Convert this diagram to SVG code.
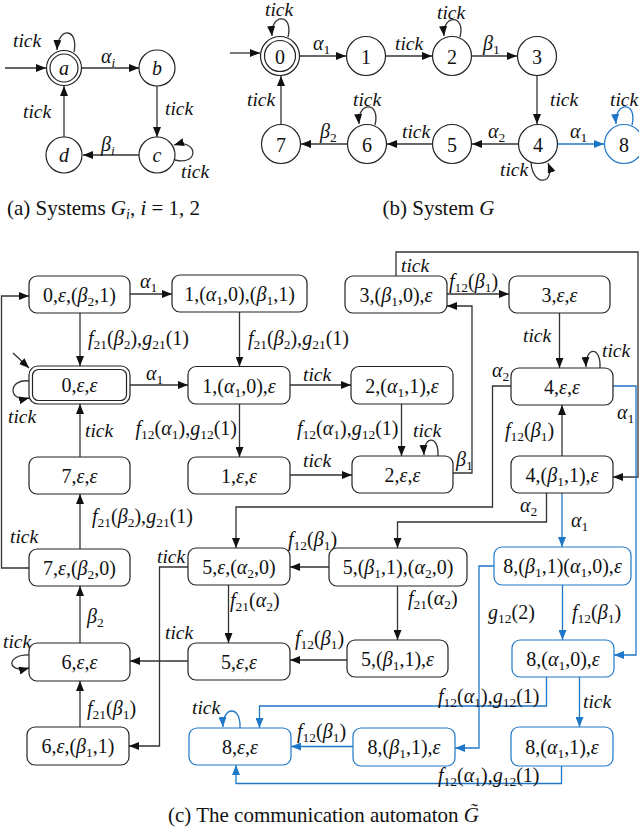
<svg xmlns="http://www.w3.org/2000/svg" width="639" height="834" viewBox="0 0 639 834">
<defs>
<style>
text{font-family:"Liberation Serif","Times New Roman",serif;fill:#111}
.n{font-size:20px;text-anchor:middle}
.l{font-size:20px}
.tk{font-size:19.5px;font-style:italic}
.it{font-style:italic}
.sb{font-size:13.5px}
.cap{font-size:21px}
.nd{fill:#fff;stroke:#222;stroke-width:1.2}
.bn{fill:#fff;stroke:#1f77c7;stroke-width:1.2}
.e{fill:none;stroke:#333;stroke-width:1.3;marker-end:url(#ah)}
.eb{fill:none;stroke:#1f77c7;stroke-width:1.3;marker-end:url(#ahb)}
</style>
<marker id="ah" viewBox="0 0 10 8" refX="10" refY="4" markerWidth="10" markerHeight="8" markerUnits="userSpaceOnUse" orient="auto"><path d="M0,0 L10,4 L0,8 z" fill="#111"/></marker>
<marker id="ahb" viewBox="0 0 10 8" refX="10" refY="4" markerWidth="10" markerHeight="8" markerUnits="userSpaceOnUse" orient="auto"><path d="M0,0 L10,4 L0,8 z" fill="#1f77c7"/></marker>
</defs>
<rect width="639" height="834" fill="#fff"/>

<!-- (a) -->
<g id="a-nodes">
<g id="a_a"><circle cx="64" cy="68" r="17.5" class="nd"/><circle cx="64" cy="68" r="14" fill="none" stroke="#222" stroke-width="1.2"/><text x="64" y="75" class="n it" font-size="23">a</text></g>
<g id="a_b"><circle cx="157" cy="68" r="18" class="nd"/><text x="157" y="75" class="n it" font-size="23">b</text></g>
<g id="a_c"><circle cx="157" cy="155" r="18" class="nd"/><text x="157" y="162" class="n it" font-size="23">c</text></g>
<g id="a_d"><circle cx="64" cy="155" r="18" class="nd"/><text x="64" y="162" class="n it" font-size="23">d</text></g>
</g>
<g id="a-connectors">
<path class="e" d="M5,68 H46"/>
<path class="e" d="M82,68 H139"/>
<path class="e" d="M157,86 V137"/>
<path class="e" d="M139,155 H83"/>
<path class="e" d="M64,137 V86"/>
<path class="e" d="M74,52 C79,28 58,26 57,50"/>
<path class="e" d="M175,160 C200,166 198,138 174,145"/>
<text x="101" y="63" class="l"><tspan class="it">α</tspan><tspan class="sb it" dy="4">i</tspan></text>
<text x="165" y="115" class="tk" font-size="21">tick</text>
<text x="101" y="151" class="l"><tspan class="it">β</tspan><tspan class="sb it" dy="4">i</tspan></text>
<text x="23" y="118" class="tk" font-size="21">tick</text>
<text x="13" y="47" class="tk" font-size="21">tick</text>
<text x="181" y="178" class="tk" font-size="21">tick</text>
</g>
<text x="7" y="215" class="cap">(a)  Systems <tspan class="it">G</tspan><tspan class="it" font-size="14" dy="4">i</tspan><tspan dy="-4">, </tspan><tspan class="it">i</tspan> = 1, 2</text>

<!-- (b) -->
<g id="b-nodes">
<g id="b0"><circle cx="280" cy="56" r="19.5" class="nd"/><circle cx="280" cy="56" r="15.5" fill="none" stroke="#222" stroke-width="1.2"/><text x="280" y="64" class="n" font-size="23">0</text></g>
<g id="b1"><circle cx="366" cy="56" r="19.5" class="nd"/><text x="366" y="64" class="n" font-size="23">1</text></g>
<g id="b2"><circle cx="452" cy="56" r="19.5" class="nd"/><text x="452" y="64" class="n" font-size="23">2</text></g>
<g id="b3"><circle cx="537" cy="56" r="19.5" class="nd"/><text x="537" y="64" class="n" font-size="23">3</text></g>
<g id="b4"><circle cx="538" cy="144" r="19.5" class="nd"/><text x="538" y="152" class="n" font-size="23">4</text></g>
<g id="b5"><circle cx="452" cy="144" r="19.5" class="nd"/><text x="452" y="152" class="n" font-size="23">5</text></g>
<g id="b6"><circle cx="367" cy="144" r="19.5" class="nd"/><text x="367" y="152" class="n" font-size="23">6</text></g>
<g id="b7"><circle cx="281" cy="144" r="19.5" class="nd"/><text x="281" y="152" class="n" font-size="23">7</text></g>
<g id="b8"><circle cx="624" cy="144" r="19.5" class="bn"/><text x="624" y="152" class="n" font-size="23">8</text></g>
</g>
<g id="b-connectors">
<path class="e" d="M230,53 H260"/>
<path class="e" d="M300,56 H346"/>
<path class="e" d="M386,56 H432"/>
<path class="e" d="M471,56 H517"/>
<path class="e" d="M537,76 V124"/>
<path class="e" d="M518.5,144 H472"/>
<path class="e" d="M432.5,144 H387"/>
<path class="e" d="M347.5,144 H301"/>
<path class="e" d="M281,124 V76"/>
<path class="eb" d="M558,144 H604"/>
<path class="e" d="M288,37 C294,13 270,13 272,36"/>
<path class="e" d="M460,37 C466,14 442,14 444,36"/>
<path class="e" d="M375,125 C381,101 357,101 359,124"/>
<path class="eb" d="M632,125 C638,101 614,101 616,124"/>
<path class="e" d="M531,162.5 C533,188 556,184 548,163"/>
<text x="265" y="16" class="tk" font-size="18.5">tick</text>
<text x="313" y="50" class="l"><tspan class="it">α</tspan><tspan class="sb" dy="4">1</tspan></text>
<text x="395" y="50" class="tk" font-size="18.5">tick</text>
<text x="437" y="19" class="tk" font-size="18.5">tick</text>
<text x="483" y="50" class="l"><tspan class="it">β</tspan><tspan class="sb" dy="4">1</tspan></text>
<text x="550" y="106" class="tk" font-size="18.5">tick</text>
<text x="488" y="138" class="l"><tspan class="it">α</tspan><tspan class="sb" dy="4">2</tspan></text>
<text x="402" y="138" class="tk" font-size="18.5">tick</text>
<text x="353" y="106" class="tk" font-size="18.5">tick</text>
<text x="320" y="138" class="l"><tspan class="it">β</tspan><tspan class="sb" dy="4">2</tspan></text>
<text x="247" y="106" class="tk" font-size="18.5">tick</text>
<text x="570" y="138" class="l"><tspan class="it">α</tspan><tspan class="sb" dy="4">1</tspan></text>
<text x="610" y="106" class="tk" font-size="18.5">tick</text>
<text x="500" y="176" class="tk" font-size="18.5">tick</text>
</g>
<text x="438.5" y="215" class="cap" text-anchor="middle">(b)  System <tspan class="it">G</tspan></text>

<!-- (c) -->
<g id="c-connectors">
<path class="e" d="M130,294 H172"/>
<path class="e" d="M80,313 V366"/>
<path class="e" d="M239.5,312 V366.5"/>
<path class="e" d="M13,353 L29,368"/>
<path class="e" d="M30,381 C7,378 8,403 29,398"/>
<path class="e" d="M130,385 H188"/>
<path class="e" d="M80,457 V404"/>
<path class="e" d="M239.5,404 V457"/>
<path class="e" d="M290,385 H351"/>
<path class="e" d="M401.5,404 V456"/>
<path class="e" d="M290,475 H352"/>
<path class="e" d="M438,456 C439,434 423,436 424,455"/>
<path class="e" d="M453,473 H472 V306 H447"/>
<path class="e" d="M396,276 V252 H638 V477 H613"/>
<path class="e" d="M447,294 H509"/>
<path class="e" d="M559.5,313 V368"/>
<path class="e" d="M600,368 C601,345 585,347 586,367"/>
<path class="e" d="M511,386 H492.5 V507 H236 V548"/>
<path class="eb" d="M613,386 H636 V655 H614"/>
<path class="e" d="M562,456 V405"/>
<path class="e" d="M546.5,493 V522 H397.5 V548"/>
<path class="eb" d="M562,493 V547"/>
<path class="e" d="M80,549 V494"/>
<path class="e" d="M29,568 H1.5 V296 H29"/>
<path class="e" d="M188,567 H159.5 V746 H129"/>
<path class="e" d="M329,567 H290"/>
<path class="e" d="M228.5,585 V643"/>
<path class="e" d="M397.5,586 V640"/>
<path class="eb" d="M562.5,585 V640"/>
<path class="eb" d="M494,566 H479 V748 H455"/>
<path class="e" d="M347,660 H290"/>
<path class="e" d="M188,661 H130"/>
<path class="e" d="M30,655 C5,654 7,674 29,668"/>
<path class="e" d="M80,643 V586"/>
<path class="e" d="M80,727 V681"/>
<path class="eb" d="M579.5,677 V727"/>
<path class="eb" d="M546.5,677 V706 H259.5 V728"/>
<path class="eb" d="M561.5,766 V783.5 H236 V765"/>
<path class="eb" d="M353,746.5 H291"/>
<path class="eb" d="M240,728 C241,704 222,707 223,727"/>
</g>
<g id="c-labels">
<text x="140" y="288" class="l"><tspan class="it">α</tspan><tspan class="sb" dy="4">1</tspan></text>
<text x="88" y="345" class="l"><tspan class="it">f</tspan><tspan class="sb" dy="4">21</tspan><tspan dy="-4">(</tspan><tspan class="it">β</tspan><tspan class="sb" dy="4">2</tspan><tspan dy="-4">),</tspan><tspan class="it">g</tspan><tspan class="sb" dy="4">21</tspan><tspan dy="-4">(1)</tspan></text>
<text x="248" y="345" class="l"><tspan class="it">f</tspan><tspan class="sb" dy="4">21</tspan><tspan dy="-4">(</tspan><tspan class="it">β</tspan><tspan class="sb" dy="4">2</tspan><tspan dy="-4">),</tspan><tspan class="it">g</tspan><tspan class="sb" dy="4">21</tspan><tspan dy="-4">(1)</tspan></text>
<text x="8" y="423" class="tk">tick</text>
<text x="146" y="380" class="l"><tspan class="it">α</tspan><tspan class="sb" dy="4">1</tspan></text>
<text x="85" y="437" class="tk">tick</text>
<text x="237" y="435" class="l" text-anchor="end"><tspan class="it">f</tspan><tspan class="sb" dy="4">12</tspan><tspan dy="-4">(</tspan><tspan class="it">α</tspan><tspan class="sb" dy="4">1</tspan><tspan dy="-4">),</tspan><tspan class="it">g</tspan><tspan class="sb" dy="4">12</tspan><tspan dy="-4">(1)</tspan></text>
<text x="303" y="381" class="tk">tick</text>
<text x="297" y="435" class="l"><tspan class="it">f</tspan><tspan class="sb" dy="4">12</tspan><tspan dy="-4">(</tspan><tspan class="it">α</tspan><tspan class="sb" dy="4">1</tspan><tspan dy="-4">),</tspan><tspan class="it">g</tspan><tspan class="sb" dy="4">12</tspan><tspan dy="-4">(1)</tspan></text>
<text x="303" y="467" class="tk">tick</text>
<text x="413" y="437" class="tk">tick</text>
<text x="456" y="466" class="l"><tspan class="it">β</tspan><tspan class="sb" dy="4">1</tspan></text>
<text x="401" y="272" class="tk">tick</text>
<text x="449" y="288" class="l"><tspan class="it">f</tspan><tspan class="sb" dy="4">12</tspan><tspan dy="-4">(</tspan><tspan class="it">β</tspan><tspan class="sb" dy="4">1</tspan><tspan dy="-4">)</tspan></text>
<text x="523" y="342" class="tk">tick</text>
<text x="602" y="357" class="tk">tick</text>
<text x="492" y="377" class="l"><tspan class="it">α</tspan><tspan class="sb" dy="4">2</tspan></text>
<text x="617" y="419" class="l"><tspan class="it">α</tspan><tspan class="sb" dy="4">1</tspan></text>
<text x="505" y="437" class="l"><tspan class="it">f</tspan><tspan class="sb" dy="4">12</tspan><tspan dy="-4">(</tspan><tspan class="it">β</tspan><tspan class="sb" dy="4">1</tspan><tspan dy="-4">)</tspan></text>
<text x="520" y="512" class="l"><tspan class="it">α</tspan><tspan class="sb" dy="4">2</tspan></text>
<text x="571" y="527" class="l"><tspan class="it">α</tspan><tspan class="sb" dy="4">1</tspan></text>
<text x="92" y="523" class="l"><tspan class="it">f</tspan><tspan class="sb" dy="4">21</tspan><tspan dy="-4">(</tspan><tspan class="it">β</tspan><tspan class="sb" dy="4">2</tspan><tspan dy="-4">),</tspan><tspan class="it">g</tspan><tspan class="sb" dy="4">21</tspan><tspan dy="-4">(1)</tspan></text>
<text x="10" y="543" class="tk">tick</text>
<text x="157" y="563" class="tk">tick</text>
<text x="288" y="546" class="l"><tspan class="it">f</tspan><tspan class="sb" dy="4">12</tspan><tspan dy="-4">(</tspan><tspan class="it">β</tspan><tspan class="sb" dy="4">1</tspan><tspan dy="-4">)</tspan></text>
<text x="230" y="607" class="l"><tspan class="it">f</tspan><tspan class="sb" dy="4">21</tspan><tspan dy="-4">(</tspan><tspan class="it">α</tspan><tspan class="sb" dy="4">2</tspan><tspan dy="-4">)</tspan></text>
<text x="408" y="605" class="l"><tspan class="it">f</tspan><tspan class="sb" dy="4">21</tspan><tspan dy="-4">(</tspan><tspan class="it">α</tspan><tspan class="sb" dy="4">2</tspan><tspan dy="-4">)</tspan></text>
<text x="572" y="619" class="l"><tspan class="it">f</tspan><tspan class="sb" dy="4">12</tspan><tspan dy="-4">(</tspan><tspan class="it">β</tspan><tspan class="sb" dy="4">1</tspan><tspan dy="-4">)</tspan></text>
<text x="488" y="619" class="l"><tspan class="it">g</tspan><tspan class="sb" dy="4">12</tspan><tspan dy="-4">(2)</tspan></text>
<text x="295" y="645" class="l"><tspan class="it">f</tspan><tspan class="sb" dy="4">12</tspan><tspan dy="-4">(</tspan><tspan class="it">β</tspan><tspan class="sb" dy="4">1</tspan><tspan dy="-4">)</tspan></text>
<text x="165" y="639" class="tk">tick</text>
<text x="3" y="648" class="tk">tick</text>
<text x="87" y="623" class="l"><tspan class="it">β</tspan><tspan class="sb" dy="4">2</tspan></text>
<text x="87" y="715" class="l"><tspan class="it">f</tspan><tspan class="sb" dy="4">21</tspan><tspan dy="-4">(</tspan><tspan class="it">β</tspan><tspan class="sb" dy="4">1</tspan><tspan dy="-4">)</tspan></text>
<text x="583" y="708" class="tk">tick</text>
<text x="438" y="703" class="l"><tspan class="it">f</tspan><tspan class="sb" dy="4">12</tspan><tspan dy="-4">(</tspan><tspan class="it">α</tspan><tspan class="sb" dy="4">1</tspan><tspan dy="-4">),</tspan><tspan class="it">g</tspan><tspan class="sb" dy="4">12</tspan><tspan dy="-4">(1)</tspan></text>
<text x="438" y="782" class="l"><tspan class="it">f</tspan><tspan class="sb" dy="4">12</tspan><tspan dy="-4">(</tspan><tspan class="it">α</tspan><tspan class="sb" dy="4">1</tspan><tspan dy="-4">),</tspan><tspan class="it">g</tspan><tspan class="sb" dy="4">12</tspan><tspan dy="-4">(1)</tspan></text>
<text x="297" y="738" class="l"><tspan class="it">f</tspan><tspan class="sb" dy="4">12</tspan><tspan dy="-4">(</tspan><tspan class="it">β</tspan><tspan class="sb" dy="4">1</tspan><tspan dy="-4">)</tspan></text>
<text x="192" y="714" class="tk">tick</text>
</g>

<g id="c-nodes">
<g id="n_0_e_b21"><rect x="29" y="276" width="101" height="37" rx="8" class="nd"/><text x="79.5" y="301.5" class="n">0,<tspan class="it">ε</tspan>,(<tspan class="it">β</tspan><tspan class="sb" dy="4">2</tspan><tspan dy="-4">,1)</tspan></text></g>
<g id="n_1_a10_b11"><rect x="172" y="275" width="135" height="37" rx="8" class="nd"/><text x="239.5" y="300.5" class="n">1,(<tspan class="it">α</tspan><tspan class="sb" dy="4">1</tspan><tspan dy="-4">,0),(</tspan><tspan class="it">β</tspan><tspan class="sb" dy="4">1</tspan><tspan dy="-4">,1)</tspan></text></g>
<g id="n_3_b10_e"><rect x="345" y="276" width="102" height="37" rx="8" class="nd"/><text x="396" y="301.5" class="n">3,(<tspan class="it">β</tspan><tspan class="sb" dy="4">1</tspan><tspan dy="-4">,0),</tspan><tspan class="it">ε</tspan></text></g>
<g id="n_3_e_e"><rect x="509" y="276" width="101" height="37" rx="8" class="nd"/><text x="559.5" y="301.5" class="n">3,<tspan class="it">ε</tspan>,<tspan class="it">ε</tspan></text></g>
<g id="n_0_e_e"><rect x="29" y="366" width="101" height="38" rx="9" class="nd"/><rect x="32.5" y="369.5" width="94" height="31" rx="6" fill="none" stroke="#222" stroke-width="1.2"/><text x="79.5" y="392" class="n">0,<tspan class="it">ε</tspan>,<tspan class="it">ε</tspan></text></g>
<g id="n_1_a10_e"><rect x="188" y="366.5" width="102" height="37.5" rx="8" class="nd"/><text x="239" y="392.5" class="n">1,(<tspan class="it">α</tspan><tspan class="sb" dy="4">1</tspan><tspan dy="-4">,0),</tspan><tspan class="it">ε</tspan></text></g>
<g id="n_2_a11_e"><rect x="351" y="366.5" width="102" height="37.5" rx="8" class="nd"/><text x="402" y="392.5" class="n">2,(<tspan class="it">α</tspan><tspan class="sb" dy="4">1</tspan><tspan dy="-4">,1),</tspan><tspan class="it">ε</tspan></text></g>
<g id="n_4_e_e"><rect x="511" y="368" width="102" height="37" rx="8" class="nd"/><text x="562" y="393.5" class="n">4,<tspan class="it">ε</tspan>,<tspan class="it">ε</tspan></text></g>
<g id="n_7_e_e"><rect x="29" y="457" width="101" height="37" rx="8" class="nd"/><text x="79.5" y="482.5" class="n">7,<tspan class="it">ε</tspan>,<tspan class="it">ε</tspan></text></g>
<g id="n_1_e_e"><rect x="188" y="457" width="102" height="37" rx="8" class="nd"/><text x="239" y="482.5" class="n">1,<tspan class="it">ε</tspan>,<tspan class="it">ε</tspan></text></g>
<g id="n_2_e_e"><rect x="352" y="456" width="101" height="37" rx="8" class="nd"/><text x="402.5" y="481.5" class="n">2,<tspan class="it">ε</tspan>,<tspan class="it">ε</tspan></text></g>
<g id="n_4_b11_e"><rect x="511" y="456" width="102" height="37" rx="8" class="nd"/><text x="562" y="481.5" class="n">4,(<tspan class="it">β</tspan><tspan class="sb" dy="4">1</tspan><tspan dy="-4">,1),</tspan><tspan class="it">ε</tspan></text></g>
<g id="n_7_e_b20"><rect x="29" y="549" width="101" height="37" rx="8" class="nd"/><text x="79.5" y="574.5" class="n">7,<tspan class="it">ε</tspan>,(<tspan class="it">β</tspan><tspan class="sb" dy="4">2</tspan><tspan dy="-4">,0)</tspan></text></g>
<g id="n_5_e_a20"><rect x="188" y="548" width="102" height="37" rx="8" class="nd"/><text x="239" y="573.5" class="n">5,<tspan class="it">ε</tspan>,(<tspan class="it">α</tspan><tspan class="sb" dy="4">2</tspan><tspan dy="-4">,0)</tspan></text></g>
<g id="n_5_b11_a20"><rect x="329" y="548" width="138" height="38" rx="8" class="nd"/><text x="398" y="574" class="n">5,(<tspan class="it">β</tspan><tspan class="sb" dy="4">1</tspan><tspan dy="-4">,1),(</tspan><tspan class="it">α</tspan><tspan class="sb" dy="4">2</tspan><tspan dy="-4">,0)</tspan></text></g>
<g id="n_8_b11_a10_e"><rect x="494" y="547" width="137" height="38" rx="8" class="bn"/><text x="562.5" y="573" class="n">8,(<tspan class="it">β</tspan><tspan class="sb" dy="4">1</tspan><tspan dy="-4">,1)(</tspan><tspan class="it">α</tspan><tspan class="sb" dy="4">1</tspan><tspan dy="-4">,0),</tspan><tspan class="it">ε</tspan></text></g>
<g id="n_6_e_e"><rect x="29" y="643" width="101" height="38" rx="8" class="nd"/><text x="79.5" y="669" class="n">6,<tspan class="it">ε</tspan>,<tspan class="it">ε</tspan></text></g>
<g id="n_5_e_e"><rect x="188" y="643" width="102" height="37" rx="8" class="nd"/><text x="239" y="668.5" class="n">5,<tspan class="it">ε</tspan>,<tspan class="it">ε</tspan></text></g>
<g id="n_5_b11_e"><rect x="347" y="640" width="101" height="37" rx="8" class="nd"/><text x="397.5" y="665.5" class="n">5,(<tspan class="it">β</tspan><tspan class="sb" dy="4">1</tspan><tspan dy="-4">,1),</tspan><tspan class="it">ε</tspan></text></g>
<g id="n_8_a10_e"><rect x="512" y="640" width="102" height="37" rx="8" class="bn"/><text x="563" y="665.5" class="n">8,(<tspan class="it">α</tspan><tspan class="sb" dy="4">1</tspan><tspan dy="-4">,0),</tspan><tspan class="it">ε</tspan></text></g>
<g id="n_6_e_b11"><rect x="27" y="727" width="102" height="38" rx="8" class="nd"/><text x="78" y="753" class="n">6,<tspan class="it">ε</tspan>,(<tspan class="it">β</tspan><tspan class="sb" dy="4">1</tspan><tspan dy="-4">,1)</tspan></text></g>
<g id="n_8_e_e"><rect x="189" y="728" width="102" height="37" rx="8" class="bn"/><text x="240" y="753.5" class="n">8,<tspan class="it">ε</tspan>,<tspan class="it">ε</tspan></text></g>
<g id="n_8_b11_e"><rect x="353" y="728" width="102" height="38" rx="8" class="bn"/><text x="404" y="754" class="n">8,(<tspan class="it">β</tspan><tspan class="sb" dy="4">1</tspan><tspan dy="-4">,1),</tspan><tspan class="it">ε</tspan></text></g>
<g id="n_8_a11_e"><rect x="511" y="727" width="102" height="39" rx="8" class="bn"/><text x="562" y="753.5" class="n">8,(<tspan class="it">α</tspan><tspan class="sb" dy="4">1</tspan><tspan dy="-4">,1),</tspan><tspan class="it">ε</tspan></text></g>
</g>
<text x="323.5" y="822" class="cap" text-anchor="middle">(c)  The communication automaton <tspan class="it">G̃</tspan></text>
</svg>
